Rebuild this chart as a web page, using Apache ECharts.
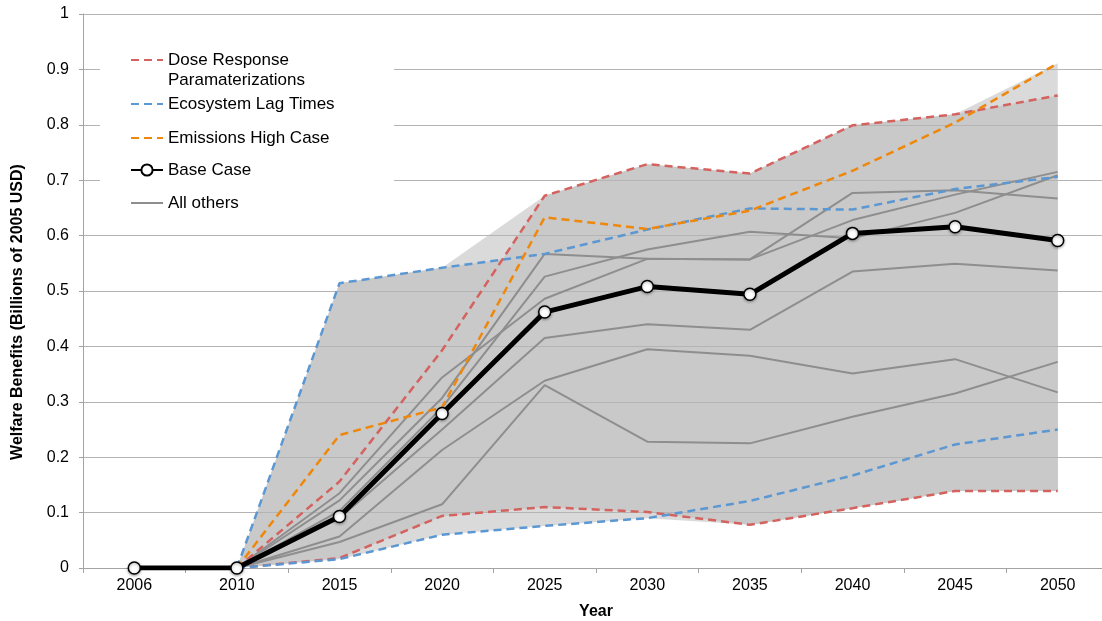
<!DOCTYPE html>
<html>
<head>
<meta charset="utf-8">
<script src="https://cdn.jsdelivr.net/npm/echarts@6/dist/echarts.min.js"></script>
<style>
  html, body { margin: 0; padding: 0; background: #fff; }
  #chart { width: 1102px; height: 621px; }
</style>
</head>
<body>
<div id="chart"></div>
<script>
// Welfare benefits projections, billions of 2005 USD
const years = ['2006', '2010', '2015', '2020', '2025', '2030', '2035', '2040', '2045', '2050'];

const baseCase      = [0, 0, 0.093, 0.279, 0.462, 0.508, 0.494, 0.604, 0.616, 0.591];
const doseHigh      = [null, 0, 0.156, 0.393, 0.672, 0.729, 0.712, 0.799, 0.819, 0.853];
const doseLow       = [null, 0, 0.018, 0.094, 0.110, 0.101, 0.078, 0.108, 0.139, 0.139];
const lagHigh       = [null, 0, 0.514, 0.542, 0.567, 0.611, 0.649, 0.647, 0.684, 0.706];
const lagLow        = [null, 0, 0.016, 0.060, 0.076, 0.090, 0.121, 0.167, 0.223, 0.250];
const emissionsHigh = [null, 0, 0.240, 0.290, 0.633, 0.612, 0.645, 0.717, 0.804, 0.911];

const other1 = [null, 0, 0.122, 0.307, 0.567, 0.558, 0.557, 0.677, 0.682, 0.667];
const other2 = [null, 0, 0.103, 0.290, 0.526, 0.575, 0.607, 0.595, 0.641, 0.709];
const other3 = [null, 0, 0.135, 0.344, 0.486, 0.558, 0.557, 0.628, 0.674, 0.715];
const other4 = [null, 0, 0.090, 0.250, 0.415, 0.440, 0.430, 0.535, 0.549, 0.537];
const other5 = [null, 0, 0.057, 0.213, 0.338, 0.395, 0.383, 0.351, 0.377, 0.317];
const other6 = [null, 0, 0.047, 0.115, 0.330, 0.228, 0.225, 0.273, 0.315, 0.372];

const allSeries = [baseCase, doseHigh, doseLow, lagHigh, lagLow, emissionsHigh,
                   other1, other2, other3, other4, other5, other6];

// Outer envelope: min / max over every scenario at each year
const envLow = years.map((_, i) => {
  const v = allSeries.map(s => s[i]).filter(x => x != null);
  return i === 0 ? null : Math.min(...v);
});
const envSpan = years.map((_, i) => {
  const v = allSeries.map(s => s[i]).filter(x => x != null);
  return i === 0 ? null : Math.max(...v) - envLow[i];
});
// Inner range: union of the areas from dose-response low up to
// the dose-response high and up to the lag-time high
const doseSpan = years.map((_, i) => i === 0 ? null : doseHigh[i] - doseLow[i]);
const lagSpan  = years.map((_, i) => i === 0 ? null : Math.max(0, lagHigh[i] - doseLow[i]));

const FONT = "'Liberation Sans', Arial, Helvetica, sans-serif";
const RED = '#d4625f', BLUE = '#5b97d2', ORANGE = '#ef870b', GREY = '#8e8e8e';
const CORE = '#c9c9c9', OUTER = '#dadada';

function dashed(name, data, color) {
  return {
    type: 'line', name, data, symbol: 'none', z: 3,
    lineStyle: { color, width: 2.5, type: [8, 5] },
    itemStyle: { color }
  };
}
function other(data) {
  return {
    type: 'line', name: 'All others', data, symbol: 'none', z: 2,
    lineStyle: { color: GREY, width: 2 },
    itemStyle: { color: GREY }
  };
}
function band(name, stack, data, fill) {
  return {
    type: 'line', name, stack, data, symbol: 'none', silent: true, z: 0,
    lineStyle: { width: 0, opacity: 0 },
    areaStyle: fill ? { color: fill, opacity: 1 } : undefined
  };
}

const legendBase = {
  orient: 'vertical', left: 130, padding: 0,
  itemWidth: 32, itemHeight: 14, itemGap: 0,
  textStyle: { fontSize: 17, color: '#000', fontFamily: FONT, lineHeight: 20 }
};
const lineOnly = { itemStyle: { opacity: 0 } };

const option = {
  animation: false,
  textStyle: { fontFamily: FONT },
  grid: {
    left: 83, right: -7, top: 14, bottom: 53,
    containLabel: false, outerBoundsMode: 'none'
  },
  graphic: [{
    type: 'rect', z: 3, silent: true,
    shape: { x: 100, y: 36, width: 294, height: 186 },
    style: { fill: '#fff' }
  }],
  legend: [
    Object.assign({}, legendBase, lineOnly, {
      top: 30, data: ['Dose Response Paramaterizations'],
      formatter: n => '\n' + n.replace(' Param', '\nParam')
    }),
    Object.assign({}, legendBase, lineOnly, { top: 94, data: ['Ecosystem Lag Times'] }),
    Object.assign({}, legendBase, lineOnly, { top: 128, data: ['Emissions High Case'] }),
    Object.assign({}, legendBase, { top: 160, data: ['Base Case'] }),
    Object.assign({}, legendBase, lineOnly, { top: 193, data: ['All others'] })
  ],
  xAxis: {
    type: 'category', data: years, boundaryGap: true, z: 1,
    name: 'Year', nameLocation: 'middle', nameGap: 36,
    nameTextStyle: { fontWeight: 'bold', fontSize: 16, color: '#000' },
    axisLine: { lineStyle: { color: '#a3a3a3', width: 1 } },
    axisTick: { show: true, length: 5, interval: 0, lineStyle: { color: '#a3a3a3' } },
    axisLabel: { fontSize: 16, color: '#000', margin: 10, interval: 0 }
  },
  yAxis: {
    type: 'value', min: 0, max: 1, interval: 0.1, z: 1,
    name: 'Welfare Benefits (Billions of 2005 USD)', nameLocation: 'middle',
    nameRotate: 90, nameGap: 57,
    nameTextStyle: { fontWeight: 'bold', fontSize: 16, color: '#000', padding: [0, 42, 0, 0] },
    axisLine: { show: true, lineStyle: { color: '#a3a3a3', width: 1 } },
    axisTick: { show: true, length: 4, lineStyle: { color: '#a3a3a3' } },
    axisLabel: { fontSize: 16, color: '#000', margin: 14 },
    splitLine: { show: true, lineStyle: { color: '#b4b4b4', width: 1 } }
  },
  series: [
    band('envelopeBase', 'env', envLow, null),
    band('envelope', 'env', envSpan, OUTER),
    band('doseBase', 'dose', doseLow, null),
    band('doseRange', 'dose', doseSpan, CORE),
    band('lagBase', 'lag', doseLow, null),
    band('lagRange', 'lag', lagSpan, CORE),
    other(other1), other(other2), other(other3),
    other(other4), other(other5), other(other6),
    dashed('Dose Response Paramaterizations', doseHigh, RED),
    dashed('Dose Response Paramaterizations', doseLow, RED),
    dashed('Ecosystem Lag Times', lagHigh, BLUE),
    dashed('Ecosystem Lag Times', lagLow, BLUE),
    dashed('Emissions High Case', emissionsHigh, ORANGE),
    {
      type: 'line', name: 'Base Case', data: baseCase, z: 4,
      symbol: 'circle', symbolSize: 12,
      lineStyle: { color: '#000', width: 5 },
      itemStyle: {
        color: '#fff', borderColor: '#000', borderWidth: 1.5,
        shadowBlur: 3, shadowColor: 'rgba(0,0,0,0.35)', shadowOffsetY: 1
      }
    }
  ]
};

const chart = echarts.init(document.getElementById('chart'), null, { renderer: 'canvas' });
chart.setOption(option);
</script>
</body>
</html>
